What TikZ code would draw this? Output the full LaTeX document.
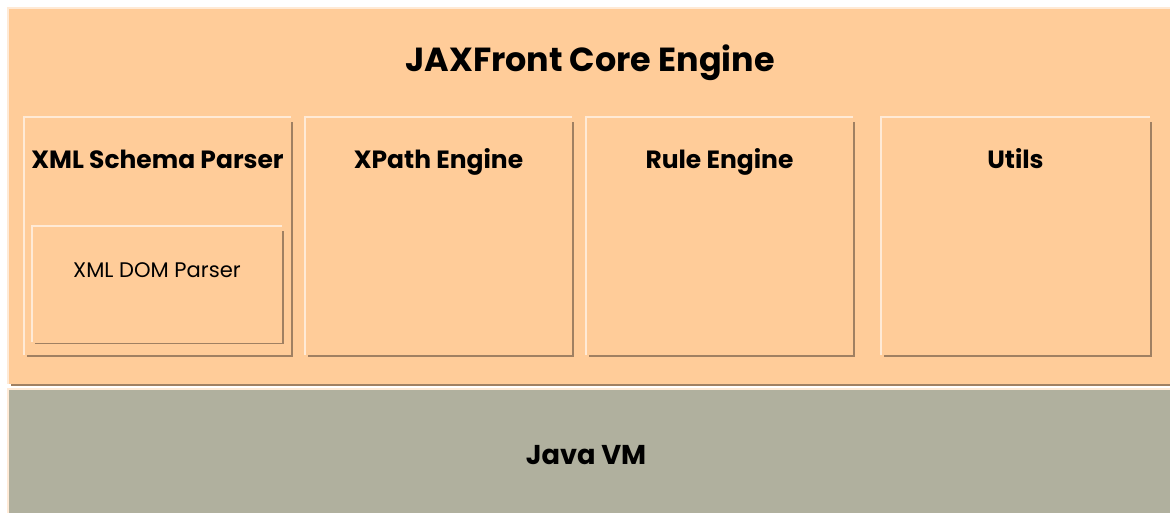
\documentclass[tikz,border=0pt]{standalone}
\usepackage{fontspec}
\setmainfont{Poppins}
\definecolor{corefill}{RGB}{255,204,153}
\definecolor{vmfill}{RGB}{176,176,158}
\definecolor{hilite}{RGB}{255,234,214}
\definecolor{shadow}{RGB}{160,128,98}
\tikzset{
  panel/.style={rectangle, anchor=north west, inner sep=0pt, outer sep=0pt, fill=corefill},
  boxtitle/.style={font=\fontsize{14.2}{17}\selectfont\bfseries, text height=1.45ex, text depth=0.35ex},
  bigtitle/.style={font=\fontsize{19}{22}\selectfont\bfseries}
}
\begin{document}
\begin{tikzpicture}[x=0.02cm, y=-0.02cm]
  \useasboundingbox (0,0) rectangle (1170,513);
  \fill[white] (0,0) rectangle (1170,513);
  % the two layers
  \node (core) at (8,8) [panel, minimum width=23.24cm, minimum height=7.52cm] {};
  \node (vm) at (8,389) [panel, fill=vmfill, minimum width=23.24cm, minimum height=2.48cm] {};
  % the modules
  \node (schema) at (24,117) [panel, minimum width=5.34cm, minimum height=4.76cm] {};
  \node (xpath) at (305,117) [panel, minimum width=5.34cm, minimum height=4.76cm] {};
  \node (rule) at (586,117) [panel, minimum width=5.34cm, minimum height=4.76cm] {};
  \node (utils) at (881,117) [panel, minimum width=5.38cm, minimum height=4.76cm] {};
  \node (dom) at (32,226) [panel, minimum width=5.0cm, minimum height=2.32cm] {};
  \foreach \b in {core, vm, schema, xpath, rule, utils, dom} {
    \draw[hilite, line width=0.6pt] (\b.south west) -- (\b.north west) -- (\b.north east);
    \draw[shadow, line width=1.1pt] ([xshift=0.06cm, yshift=-0.03cm]\b.south west) -- ([xshift=0.03cm, yshift=-0.03cm]\b.south east) -- ([xshift=0.03cm, yshift=-0.1cm]\b.north east);
  }
  % labels
  \node (coretitle) at (590,63) [bigtitle] {JAXFront Core Engine};
  \node (vmtitle) at (586,455) [bigtitle, font=\fontsize{15.5}{18}\selectfont\bfseries] {Java VM};
  \node (schematitle) at ([yshift=-0.92cm]schema.north) [boxtitle] {XML Schema Parser};
  \node (xpathtitle) at ([yshift=-0.92cm]xpath.north) [boxtitle] {XPath Engine};
  \node (ruletitle) at ([yshift=-0.92cm]rule.north) [boxtitle] {Rule Engine};
  \node (utilstitle) at ([yshift=-0.92cm]utils.north) [boxtitle] {Utils};
  \node (domtitle) at ([yshift=-0.88cm]dom.north) [font=\fontsize{12}{14}\selectfont] {XML DOM Parser};
\end{tikzpicture}
\end{document}
